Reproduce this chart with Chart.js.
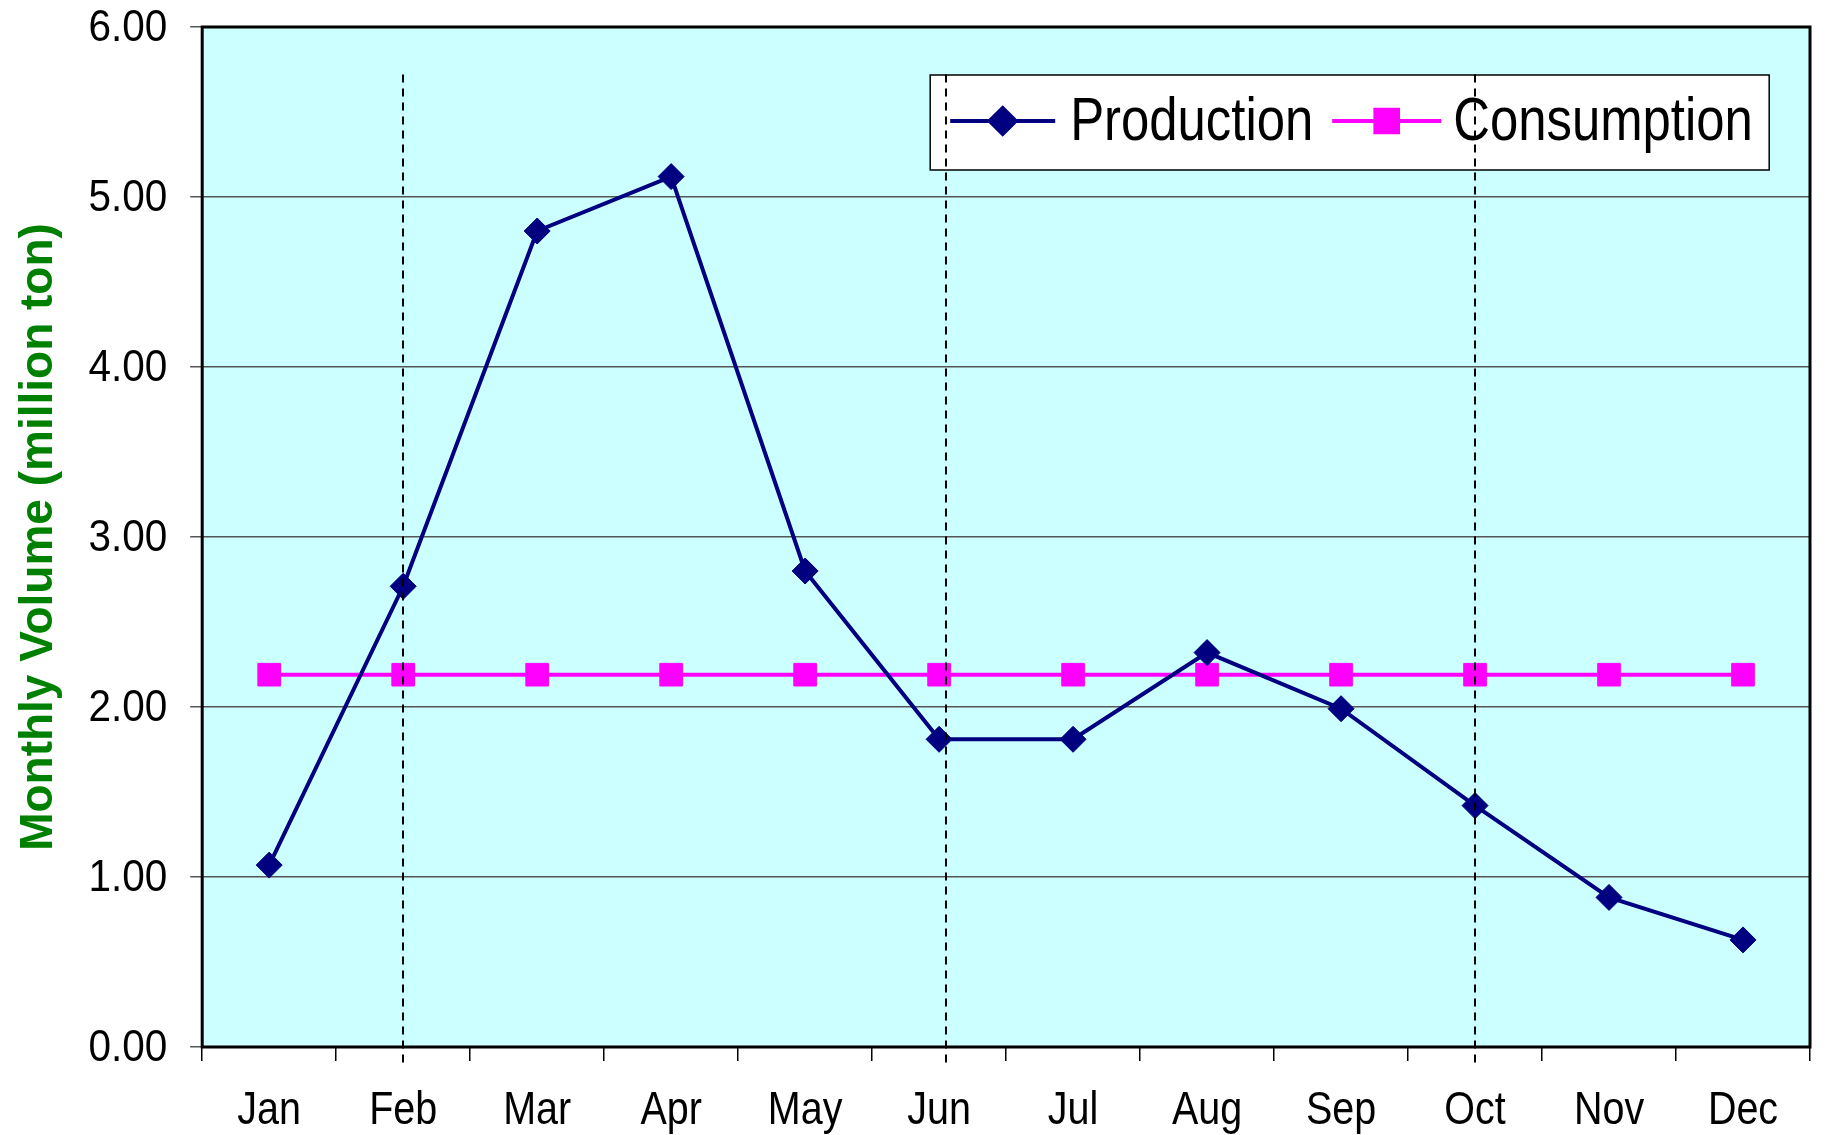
<!DOCTYPE html>
<html>
<head>
<meta charset="utf-8">
<script src="https://cdn.jsdelivr.net/npm/chart.js@4"></script>
<style>
  html, body { margin: 0; padding: 0; background: #fff; }
  #wrap { position: relative; width: 1827px; height: 1135px; }
</style>
</head>
<body>
<div id="wrap"><canvas id="volume_chart"></canvas></div>
<script>
// chart data
const months = ["Jan", "Feb", "Mar", "Apr", "May", "Jun", "Jul", "Aug", "Sep", "Oct", "Nov", "Dec"];
const production = [1.07, 2.71, 4.80, 5.12, 2.80, 1.81, 1.81, 2.32, 1.99, 1.42, 0.88, 0.63];
const consumption = [2.19, 2.19, 2.19, 2.19, 2.19, 2.19, 2.19, 2.19, 2.19, 2.19, 2.19, 2.19];
const yTicks = [0, 1, 2, 3, 4, 5, 6];
// dashed markers (category index) and the value where they start
const dashedAt = [1, 5.05, 9];
const dashedTop = 5.72;

const plainFont = "'Liberation Sans', Arial, sans-serif";

// draws text squeezed horizontally (the original uses tall, narrow lettering)
function squeezedText(ctx, text, x, y, size, squeeze, align) {
  ctx.save();
  ctx.font = size + "px " + plainFont;
  ctx.textBaseline = "alphabetic";
  ctx.textAlign = align;
  ctx.translate(x, y);
  ctx.scale(squeeze, 1);
  ctx.fillText(text, 0, 0);
  ctx.restore();
}

// plot background + frame
const plotFrame = {
  id: "plotFrame",
  beforeDraw(chart) {
    const { ctx, chartArea: a } = chart;
    ctx.save();
    ctx.fillStyle = "#CCFFFF";
    ctx.fillRect(a.left, a.top, a.right - a.left, a.bottom - a.top);
    ctx.restore();
  },
  afterDraw(chart) {
    const { ctx, chartArea: a } = chart;
    ctx.save();
    ctx.strokeStyle = "#000";
    ctx.lineWidth = 3;
    ctx.strokeRect(a.left, a.top, a.right - a.left, a.bottom - a.top);
    ctx.restore();
  }
};

// tick labels, taken from the chart's own scales
const tickLabels = {
  id: "tickLabels",
  afterDraw(chart) {
    const { ctx, chartArea: a, scales } = chart;
    ctx.save();
    ctx.fillStyle = "#000";
    scales.y.ticks.forEach(t => {
      const y = scales.y.getPixelForValue(t.value);
      squeezedText(ctx, t.value.toFixed(2), a.left - 35, y + 14, 45, 0.9, "right");
    });
    chart.data.labels.forEach((lab, i) => {
      const x = scales.x.getPixelForValue(i);
      squeezedText(ctx, lab, x, a.bottom + 77, 47, 0.84, "center");
    });
    ctx.restore();
  }
};

// legend box inside the plot, then the dashed verticals over it
const legendAndDashes = {
  id: "legendAndDashes",
  afterDatasetsDraw(chart) {
    const { ctx, chartArea: a, scales } = chart;
    ctx.save();

    const bx = a.left + 728, by = a.top + 48, bw = 839, bh = 95;
    ctx.fillStyle = "#fff";
    ctx.fillRect(bx, by, bw, bh);
    ctx.strokeStyle = "#000";
    ctx.lineWidth = 1.5;
    ctx.strokeRect(bx, by, bw, bh);

    const cy = by + 46;
    chart.data.datasets.forEach((ds, i) => {
      const x0 = bx + (i === 0 ? 20 : 402);
      const x1 = bx + (i === 0 ? 125 : 511);
      const tx = bx + (i === 0 ? 140 : 523);
      ctx.strokeStyle = ds.borderColor;
      ctx.lineWidth = 4;
      ctx.beginPath();
      ctx.moveTo(x0, cy);
      ctx.lineTo(x1, cy);
      ctx.stroke();
      ctx.fillStyle = ds.backgroundColor;
      ctx.beginPath();
      Chart.helpers.drawPoint(ctx, { pointStyle: ds.pointStyle, radius: ds.pointRadius, rotation: 0, borderWidth: 1 }, (x0 + x1) / 2, cy);
      ctx.fill();
      ctx.fillStyle = "#000";
      squeezedText(ctx, ds.label, tx, by + 65, 62, 0.82, "left");
    });

    // dashed verticals
    ctx.strokeStyle = "#000";
    ctx.lineWidth = 2;
    ctx.setLineDash([8, 6]);
    const yTop = scales.y.getPixelForValue(dashedTop);
    dashedAt.forEach(idx => {
      const x = Math.round(scales.x.getPixelForValue(idx));
      ctx.beginPath();
      ctx.moveTo(x, yTop);
      ctx.lineTo(x, a.bottom + 17);
      ctx.stroke();
    });
    ctx.restore();
  }
};

const ctx = document.getElementById("volume_chart").getContext("2d");
new Chart(ctx, {
  type: "line",
  data: {
    labels: months,
    datasets: [
      {
        label: "Production",
        data: production,
        borderColor: "#000080",
        backgroundColor: "#000080",
        borderWidth: 4,
        pointStyle: "rectRot",
        pointRadius: 13,
        pointBorderWidth: 1,
        tension: 0,
        fill: false
      },
      {
        label: "Consumption",
        data: consumption,
        borderColor: "#FF00FF",
        backgroundColor: "#FF00FF",
        borderWidth: 4,
        pointStyle: "rect",
        pointRadius: 16,
        pointBorderWidth: 1,
        tension: 0,
        fill: false
      }
    ]
  },
  options: {
    responsive: true,
    maintainAspectRatio: false,
    animation: false,
    layout: { padding: { left: 12, right: 15, top: 27, bottom: 74 } },
    plugins: {
      legend: { display: false },
      tooltip: { enabled: false }
    },
    scales: {
      x: {
        offset: true,
        border: { display: false },
        grid: {
          display: true,
          offset: true,
          drawOnChartArea: false,
          drawTicks: true,
          tickLength: 14,
          color: "#000",
          lineWidth: 1.5
        },
        ticks: { display: false }
      },
      y: {
        min: 0,
        max: 6,
        border: { display: false },
        afterBuildTicks(axis) {
          axis.ticks = yTicks.map(v => ({ value: v }));
        },
        grid: {
          color: "#555",
          lineWidth: 1.5,
          tickLength: 12
        },
        ticks: { display: false },
        title: {
          display: true,
          text: "Monthly Volume (million ton)",
          color: "#008000",
          font: { family: plainFont, size: 46, weight: "bold" },
          padding: { top: 0, bottom: 123 }
        }
      }
    }
  },
  plugins: [plotFrame, tickLabels, legendAndDashes]
});
</script>
</body>
</html>
